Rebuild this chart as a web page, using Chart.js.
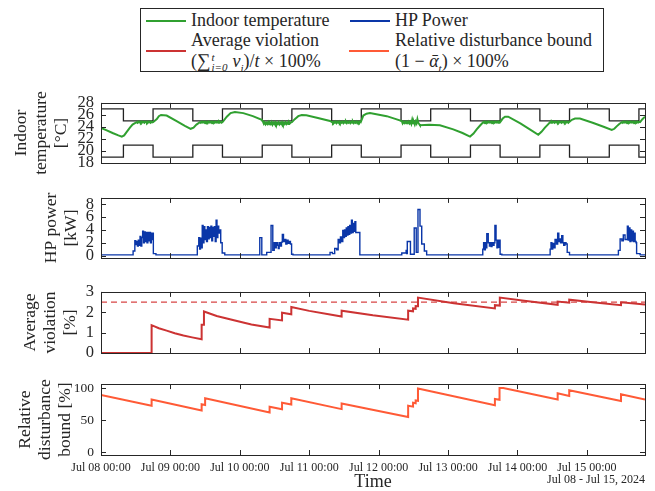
<!DOCTYPE html>
<html>
<head>
<meta charset="utf-8">
<script src="https://cdn.jsdelivr.net/npm/chart.js@4.4.0/dist/chart.umd.min.js"></script>
<style>
  body { margin: 0; background: #fff; }
  #wrap { position: relative; width: 655px; height: 491px; font-family: "Liberation Serif", "DejaVu Serif", serif; color: #262626; }
  .panel { position: absolute; left: 0; }
  #legend { position: absolute; left: 140px; top: 8px; width: 464px; height: 64px; border: 1px solid #262626; box-sizing: border-box; font-size: 18px; }
  #legend .ln { position: absolute; width: 40px; height: 2px; }
  #legend .tx { position: absolute; white-space: nowrap; line-height: 20px; }
  .ss { display: inline-flex; flex-direction: column; font-size: 11px; line-height: 10px; vertical-align: 6px; font-style: italic; margin-left: 1px; margin-right: 5px; }
  #dateNote { position: absolute; right: 10px; top: 472px; font-size: 12px; white-space: nowrap; }
</style>
</head>
<body>
<div id="wrap">
  <div id="legend">
    <div class="ln" style="left:5px; top:11px; background:#30a030"></div>
    <div class="tx" style="left:50px; top:1px">Indoor temperature</div>
    <div class="ln" style="left:209px; top:11px; background:#0a36a8"></div>
    <div class="tx" style="left:254px; top:1px">HP Power</div>
    <div class="ln" style="left:5px; top:41px; background:#cc3333"></div>
    <div class="tx" style="left:50px; top:21px">Average violation</div>
    <div class="tx" style="left:50px; top:42px">(<span style="font-size:19px">&sum;</span><span class="ss"><span>t</span><span>i=0</span></span><i>v</i><sub style="font-size:11px"><i>i</i></sub>)/<i>t</i> &times; 100%</div>
    <div class="ln" style="left:208px; top:41px; background:#ff5a36"></div>
    <div class="tx" style="left:254px; top:21px">Relative disturbance bound</div>
    <div class="tx" style="left:254px; top:42px">(1 &minus; <i>&#x1FB1;</i><sub style="font-size:11px"><i>t</i></sub>) &times; 100%</div>
  </div>
  <div class="panel" style="top:86px"><canvas id="tempChart" width="655" height="94"></canvas></div>
  <div class="panel" style="top:181px"><canvas id="powerChart" width="655" height="94"></canvas></div>
  <div class="panel" style="top:275px"><canvas id="violationChart" width="655" height="95"></canvas></div>
  <div class="panel" style="top:369px"><canvas id="boundChart" width="655" height="122"></canvas></div>
  <div id="dateNote">Jul 08 - Jul 15, 2024</div>
</div>

<script>
// ==================== DỮ LIỆU ====================
// time axis in hours from Jul 08 00:00
const X_MAX = 188.1;
const dayHours = [0, 24, 48, 72, 96, 120, 144, 168];
const dayLabels = ['Jul 08 00:00', 'Jul 09 00:00', 'Jul 10 00:00', 'Jul 11 00:00',
                   'Jul 12 00:00', 'Jul 13 00:00', 'Jul 14 00:00', 'Jul 15 00:00'];

// comfort band (stepped)
const boundHours = [0, 7.75, 18, 31.75, 42, 55.75, 66, 79.75, 90, 103.75, 114, 127.75, 138, 151.75, 162, 175.75, 186, 188.1];
const upperBound = [27, 25, 27, 25, 27, 25, 27, 25, 27, 25, 27, 25, 27, 25, 27, 25, 27, 27];
const lowerBound = [19, 21, 19, 21, 19, 21, 19, 21, 19, 21, 19, 21, 19, 21, 19, 21, 19, 19];

// indoor temperature [h, °C]
const indoorTemp = [
  [0,23.85],[2,23.45],[4,23.0],[6,22.6],[7.2,22.4],[8.0,22.6],[8.9,23.2],[10.0,23.9],[10.9,24.4],[12.3,24.8],
  [12.6,24.7],[12.9,24.9],[13.2,24.75],[13.5,24.85],[13.8,24.7],[14.1,24.9],[14.4,24.75],[14.7,24.85],[15.0,24.7],[15.3,24.9],
  [15.6,24.8],[15.9,24.7],[16.2,24.9],[16.5,24.75],[16.8,24.85],[17.1,24.7],[17.4,24.9],[17.7,24.75],[18.0,24.8],
  [19.3,25.3],[20.0,25.8],[20.75,26.0],[22.7,25.9],[26,25.0],[29,24.2],[31.0,23.7],[32.0,23.9],[33.0,24.4],[34.2,24.8],
  [34.5,24.7],[34.8,24.9],[35.1,24.75],[35.4,24.85],[35.7,24.7],[36.0,24.9],[36.3,24.75],[36.6,24.85],[36.9,24.65],[37.2,24.9],
  [37.5,24.75],[37.8,24.85],[38.1,24.7],[38.4,24.9],[38.7,24.75],[39.0,24.85],[39.3,24.7],[39.6,24.9],[39.9,24.75],[40.2,24.85],
  [40.5,24.7],[40.8,24.9],[41.1,24.75],[41.4,24.85],[41.7,24.7],[42.1,24.85],
  [43.5,25.7],[44.8,26.3],[46.3,26.5],[49.2,26.3],[52.5,25.8],[55.6,25.2],[56.0,24.9],
  [56.3,24.55],[56.6,24.8],[56.9,24.45],[57.2,24.7],[57.5,24.5],[57.8,24.8],[58.1,24.45],[58.4,24.7],[58.7,24.5],[59.0,24.8],
  [59.3,24.4],[59.6,24.7],[59.9,24.5],[60.2,24.8],[60.5,24.45],[60.8,24.7],[61.1,24.5],[61.4,24.8],[61.7,24.45],[62.0,24.7],
  [62.3,24.5],[62.6,24.8],[62.9,24.45],[63.2,24.7],[63.5,24.5],[63.8,24.8],[64.1,24.5],[64.4,24.7],[64.7,24.5],[65.0,24.8],
  [65.3,24.6],[65.6,24.75],[66.0,24.8],
  [67.0,25.3],[68.2,25.8],[69.4,26.0],[71.0,25.95],[75,25.5],[79.2,25.0],[79.9,24.8],
  [80.2,24.65],[80.5,24.85],[80.8,24.7],[81.1,24.9],[81.4,24.65],[81.7,24.85],[82.0,24.7],[82.3,24.9],[82.6,24.65],[82.9,24.85],
  [83.2,24.7],[83.5,24.9],[83.8,24.65],[84.1,24.85],[84.4,24.7],[84.7,24.9],[85.0,24.65],[85.3,24.85],[85.6,24.7],[85.9,24.9],
  [86.2,24.65],[86.5,24.85],[86.8,24.7],[87.1,24.9],[87.4,24.65],[87.7,24.85],[88.0,24.7],[88.3,24.9],[88.6,24.65],[88.9,24.85],
  [89.2,24.7],[89.5,24.9],[89.8,24.8],
  [90.7,25.9],[91.8,26.2],[93.0,26.3],[98.8,25.8],[102,25.3],[104.0,25.0],
  [104.3,24.6],[104.6,24.85],[104.9,24.65],[105.2,24.85],[105.5,24.6],[105.8,24.8],[106.1,24.65],[106.4,24.9],[106.7,24.6],[107.0,24.85],
  [107.3,24.5],[107.6,25.2],[107.9,24.6],[108.2,24.8],[108.5,24.4],[108.8,24.9],[109.1,24.6],[109.4,25.3],[109.7,24.7],[110.0,24.5],
  [110.3,24.3],[113.5,24.35],[117.2,24.3],[121.8,23.6],[125,23.0],[127.6,22.4],[128.8,22.9],[129.9,23.6],[131.0,24.2],[132.2,24.8],
  [132.5,24.7],[132.8,24.9],[133.1,24.75],[133.4,24.85],[133.7,24.7],[134.0,24.9],[134.3,24.75],[134.6,24.85],[134.9,24.7],[135.2,24.9],
  [135.5,24.75],[135.8,24.85],[136.1,24.7],[136.4,24.9],[136.7,24.75],[137.0,24.85],[137.3,24.7],[137.6,24.9],[138.0,24.8],
  [138.9,25.4],[139.7,25.7],[140.8,25.7],[145,24.6],[148,23.7],[151.2,22.7],[152.3,23.2],[153.5,23.9],[154.5,24.4],[155.3,24.8],
  [155.6,24.7],[155.9,24.9],[156.2,24.75],[156.5,24.85],[156.8,24.7],[157.1,24.9],[157.4,24.75],[157.7,24.85],[158.0,24.7],[158.3,24.9],
  [158.6,24.75],[158.9,24.85],[159.2,24.7],[159.5,24.9],[159.8,24.75],[160.1,24.85],[160.4,24.7],[160.7,24.9],[161.0,24.75],[161.3,24.85],
  [161.6,24.7],[161.9,24.85],
  [162.8,25.2],[163.9,25.4],[165.6,25.4],[170,24.7],[174,24.0],[176.6,23.5],[177.5,23.7],[178.3,24.1],[179.2,24.5],[180.1,24.8],
  [180.4,24.7],[180.7,24.9],[181.0,24.75],[181.3,24.85],[181.6,24.7],[181.9,24.9],[182.2,24.75],[182.5,24.85],[182.8,24.7],[183.1,24.9],
  [183.4,24.75],[183.7,24.85],[184.0,24.7],[184.3,24.9],[184.6,24.75],[184.9,24.85],[185.2,24.7],[185.5,24.9],[185.8,24.75],[186.1,24.85],
  [186.4,24.8],[187.2,25.3],[188.1,25.7]
];

// HP power [h, kW] (each value holds until the next time)
const hpPower = [
  [0,0.1],
  [11.1,0.7],[11.7,2.3],[12.0,1.7],[12.3,2.2],[12.6,1.5],[12.9,2.4],[13.2,1.6],[13.5,3.0],[13.8,1.5],[14.1,2.8],[14.4,3.8],
  [14.7,2.0],[15.0,3.7],[15.3,2.2],[15.6,3.6],[15.9,2.0],[16.2,3.6],[16.5,2.3],[16.8,3.6],[17.1,2.0],[17.4,3.5],[17.7,2.5],
  [18.0,3.5],[18.1,0.3],[19.0,0.1],
  [33.3,1.5],[33.8,2.8],[34.1,1.0],[34.4,2.7],[34.7,1.2],[35.0,4.7],[35.3,2.0],[35.6,4.5],[35.9,2.5],[36.2,4.0],[36.5,2.2],
  [36.8,4.5],[37.1,2.6],[37.4,4.4],[37.7,2.8],[38.0,4.6],[38.3,2.3],[38.6,4.4],[38.9,3.0],[39.2,4.5],[39.5,2.2],[39.8,5.5],
  [40.1,2.8],[40.4,4.6],[40.7,3.5],[41.0,4.0],[41.4,2.0],[41.9,0.4],[42.8,0.1],
  [54.9,2.8],[55.6,0.1],[57.3,0.5],[58.8,4.7],[59.4,0.8],[59.9,2.0],[60.3,1.2],[60.6,2.0],[61.0,1.6],[61.3,1.1],[61.6,2.0],
  [62.0,1.5],[62.4,2.1],[62.7,3.3],[63.1,2.2],[63.5,2.5],[63.9,1.8],[64.3,2.4],[64.7,1.9],[65.1,2.2],[65.5,1.8],[65.9,0.2],[66.4,0.1],
  [79.2,0.5],[80.0,0.3],[80.8,1.1],[81.5,0.9],[82.0,2.5],[82.4,2.0],[82.8,2.9],[83.2,2.2],[83.6,3.9],[83.9,2.8],[84.2,4.0],
  [84.5,3.0],[84.8,4.3],[85.1,3.2],[85.4,4.5],[85.7,3.3],[86.0,4.7],[86.3,3.5],[86.6,5.5],[86.9,3.6],[87.2,5.0],[87.5,3.8],
  [87.8,5.3],[88.1,3.6],[89.5,0.1],
  [104.0,0.4],[105.5,0.8],[105.7,0.3],[105.9,2.2],[107.0,0.2],[108.3,4.3],[109.0,0.5],[109.6,7.2],[110.3,4.6],[110.9,1.8],
  [111.8,0.7],[112.6,0.1],
  [132.0,1.0],[132.3,2.0],[132.6,0.9],[132.9,2.0],[133.2,1.2],[133.4,3.4],[133.9,2.0],[134.3,1.5],[134.6,2.0],[134.9,1.4],
  [135.2,2.0],[135.5,1.6],[135.9,2.0],[136.2,4.7],[136.6,2.4],[136.9,1.2],[137.2,2.4],[137.5,1.3],[137.8,2.4],[138.0,0.2],[138.6,0.1],
  [155.3,1.0],[155.6,2.0],[155.9,1.0],[156.2,1.9],[156.6,1.2],[157.0,2.5],[157.5,1.8],[157.9,3.5],[158.3,2.2],[158.6,2.6],
  [158.9,2.0],[159.3,3.1],[159.7,2.0],[160.0,1.6],[160.4,2.0],[160.8,1.8],[161.2,0.5],[162.0,0.1],
  [178.9,0.8],[179.5,2.6],[180.1,2.3],[180.6,3.2],[181.2,2.5],[181.6,2.5],[182.0,4.6],[182.3,2.4],[182.6,4.3],[182.9,2.2],
  [183.2,4.0],[183.5,2.3],[183.8,3.8],[184.1,2.2],[184.4,3.5],[184.7,2.2],[185.0,2.0],[185.2,0.3],[186.4,0.1],
  [188.1,0.1]
];

// average violation [h, %]
const violation = [
  [0,0],[17.5,0],[17.5,1.37],[20,1.22],[22.7,1.1],[25.5,0.97],[28.5,0.86],[31.5,0.77],[34.8,0.68],[34.8,1.39],[35.6,1.39],
  [35.6,2.04],[40,1.82],[46.3,1.6],[52,1.4],[58.3,1.25],[58.3,1.68],[62.6,1.6],[62.6,1.98],[65.8,1.9],[65.8,2.26],[72,2.07],
  [79.2,1.89],[83.2,1.79],[83.2,2.08],[94,1.85],[106.2,1.64],[106.2,2.08],[107.9,2.05],[107.9,2.19],[108.8,2.17],[108.8,2.31],
  [109.6,2.3],[109.6,2.72],[122,2.44],[136.2,2.19],[136.2,2.35],[137.9,2.33],[137.9,2.72],[147,2.55],[157.9,2.37],[157.9,2.53],
  [161.9,2.47],[161.9,2.62],[170,2.49],[179.8,2.35],[179.8,2.49],[188.1,2.38]
];
const violationLimit = 2.5;

// relative disturbance bound [h, %]
const disturbance = [
  [0,89.3],[17.5,72.5],[17.5,82],[34.8,65.2],[34.8,74.8],[36.0,73.6],[36.0,84],[58.3,62],[58.3,71],[62.6,67],[62.6,77.2],
  [65.8,74.3],[65.8,84],[83.2,67.2],[83.2,75.8],[106.2,55],[106.2,72.5],[107.9,71],[107.9,77],[108.8,76.2],[108.8,80.6],
  [109.6,80],[109.6,99],[136.2,73.3],[136.2,83],[137.8,81.6],[137.8,100],[139.1,100],[157.9,82],[157.9,91.7],[161.9,87.7],
  [161.9,96.6],[179.8,79.7],[179.8,90.3],[188.1,82]
];

// ==================== CẤU HÌNH CHUNG ====================
const SERIF = '"Liberation Serif", "DejaVu Serif", serif';
const INK = '#262626';

const pts = arr => arr.map(p => ({ x: p[0], y: p[1] }));
const zip = (xs, ys) => xs.map((x, i) => ({ x: x, y: ys[i] }));

// MATLAB-style box with inward tick marks
const boxTicks = {
  id: 'boxTicks',
  afterDraw(chart) {
    const { ctx, chartArea: a, scales: { x, y } } = chart;
    ctx.save();
    ctx.strokeStyle = INK;
    ctx.lineWidth = 1;
    ctx.strokeRect(Math.round(a.left) + 0.5, Math.round(a.top) + 0.5, Math.round(a.width), Math.round(a.height));
    ctx.beginPath();
    x.ticks.forEach(t => {
      const px = Math.round(x.getPixelForValue(t.value)) + 0.5;
      ctx.moveTo(px, a.bottom); ctx.lineTo(px, a.bottom - 5);
      ctx.moveTo(px, a.top); ctx.lineTo(px, a.top + 5);
    });
    y.ticks.forEach(t => {
      const py = Math.round(y.getPixelForValue(t.value)) + 0.5;
      ctx.moveTo(a.left, py); ctx.lineTo(a.left + 5, py);
      ctx.moveTo(a.right, py); ctx.lineTo(a.right - 5, py);
    });
    ctx.stroke();
    ctx.restore();
  }
};

function xScale(bottom) {
  return {
    type: 'linear', min: 0, max: X_MAX,
    afterBuildTicks: s => { s.ticks = dayHours.map(v => ({ value: v })); },
    afterFit: s => { s.height = bottom ? 36 : 0; },
    grid: { display: false, drawTicks: false },
    border: { display: false },
    ticks: {
      display: bottom, color: INK, padding: 6, maxRotation: 0, autoSkip: false,
      font: { family: SERIF, size: 12 },
      callback: (v, i) => dayLabels[i]
    },
    title: {
      display: bottom, text: 'Time', color: INK, padding: 0,
      font: { family: SERIF, size: 18, lineHeight: 1 }
    }
  };
}

function yScale(min, max, ticks, title, pad, tickSize) {
  return {
    min: min, max: max,
    afterBuildTicks: s => { s.ticks = ticks.map(v => ({ value: v })); },
    afterFit: s => { s.width = 101; },
    grid: { display: false, drawTicks: false },
    border: { display: false },
    ticks: { color: INK, padding: 7, autoSkip: false, font: { family: SERIF, size: tickSize } },
    title: {
      display: true, text: title, color: INK, padding: { top: pad, bottom: 0 },
      font: { family: SERIF, size: 17.5, lineHeight: 1.15 }
    }
  };
}

function makeChart(id, datasets, yOpts, bottom) {
  return new Chart(document.getElementById(id), {
    type: 'line',
    data: { datasets: datasets },
    options: {
      responsive: false,
      animation: false,
      layout: { padding: { top: 10, right: 10, bottom: bottom ? 0 : 10, left: 0 } },
      elements: { point: { radius: 0 } },
      plugins: { legend: { display: false }, tooltip: { enabled: false } },
      scales: { x: xScale(bottom), y: yOpts }
    },
    plugins: [boxTicks]
  });
}

// ==================== BIỂU ĐỒ ====================
makeChart('tempChart', [
  { data: pts(indoorTemp), borderColor: '#30a030', borderWidth: 2 },
  { data: zip(boundHours, upperBound), borderColor: '#222', borderWidth: 1.3, stepped: 'before' },
  { data: zip(boundHours, lowerBound), borderColor: '#222', borderWidth: 1.3, stepped: 'before' }
], yScale(18, 28, [18, 20, 22, 24, 26, 28], ['Indoor', 'temperature', '[°C]'], 11, 16.5), false);

makeChart('powerChart', [
  { data: pts(hpPower), borderColor: '#0a36a8', borderWidth: 1.4, stepped: 'before' }
], yScale(-0.4, 9, [0, 2, 4, 6, 8], ['HP power', '[kW]'], 41, 16.5), false);

makeChart('violationChart', [
  { data: pts(violation), borderColor: '#cc3333', borderWidth: 2 },
  { data: [{ x: 0, y: violationLimit }, { x: X_MAX, y: violationLimit }], borderColor: '#d84545', borderWidth: 1.3, borderDash: [6, 4] }
], yScale(0, 3, [0, 1, 2, 3], ['Average', 'violation', '[%]'], 20, 16.5), false);

makeChart('boundChart', [
  { data: pts(disturbance), borderColor: '#ff5a36', borderWidth: 2 }
], yScale(-4, 106, [0, 50, 100], ['Relative', 'disturbance', 'bound [%]'], 15, 13.5), true);
</script>
</body>
</html>
